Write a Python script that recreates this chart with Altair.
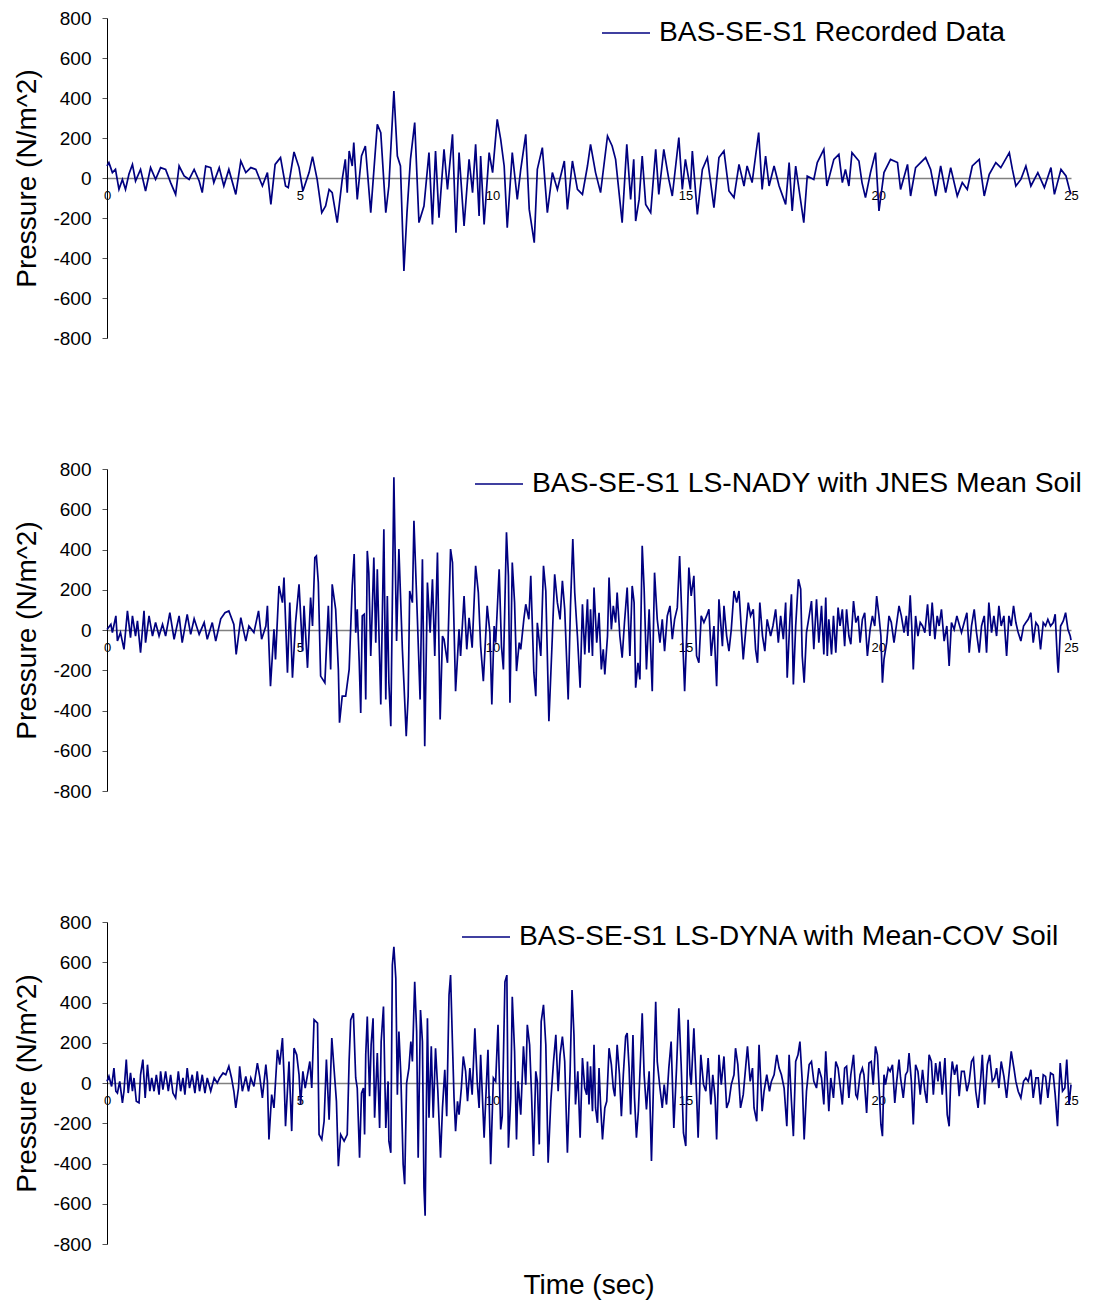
import altair as alt
import pandas as pd

# ---------------- data (time s, pressure N/m^2) ----------------
REC_NAME = "BAS-SE-S1 Recorded Data"
NADY_NAME = "BAS-SE-S1 LS-NADY with JNES Mean Soil"
DYNA_NAME = "BAS-SE-S1 LS-DYNA with Mean-COV Soil"

REC = [(0.0,60),(0.05,77),(0.14,27),(0.22,43),(0.31,-57),(0.40,-7),(0.48,-57),(0.57,20),(0.66,68),(0.74,-15),(0.87,43),(1.0,-65),(1.13,52),(1.26,-7),(1.39,52),(1.52,43),(1.65,-23),(1.78,-82),(1.87,60),(2.0,10),(2.13,-7),(2.26,43),(2.39,-15),(2.47,-73),(2.56,60),(2.69,52),(2.77,-23),(2.91,52),(3.03,-40),(3.16,43),(3.34,-82),(3.47,85),(3.6,27),(3.73,52),(3.86,43),(4.03,-40),(4.16,27),(4.25,-132),(4.36,68),(4.5,102),(4.63,-40),(4.7,-48),(4.85,130),(4.98,52),(5.08,-65),(5.24,27),(5.33,107),(5.45,-7),(5.57,-173),(5.67,-140),(5.76,-57),(5.84,-73),(5.97,-223),(6.1,-7),(6.18,93),(6.23,-73),(6.28,135),(6.36,60),(6.40,177),(6.49,-107),(6.6,110),(6.7,160),(6.84,-173),(7.01,268),(7.1,227),(7.23,-173),(7.31,-40),(7.44,435),(7.53,110),(7.61,60),(7.7,-465),(7.78,-173),(7.87,93),(7.98,277),(8.09,-223),(8.22,-140),(8.35,127),(8.44,-232),(8.52,135),(8.61,-198),(8.74,143),(8.83,-57),(8.96,218),(9.05,-273),(9.13,127),(9.26,-240),(9.39,93),(9.48,-73),(9.56,168),(9.65,-190),(9.69,110),(9.78,-232),(9.91,127),(10.0,27),(10.12,293),(10.21,193),(10.3,60),(10.38,-248),(10.51,127),(10.64,-107),(10.73,43),(10.86,218),(10.95,-157),(11.08,-323),(11.16,43),(11.29,152),(11.42,-173),(11.55,27),(11.68,-57),(11.86,85),(11.94,-157),(12.07,85),(12.2,-57),(12.33,-82),(12.46,60),(12.54,168),(12.67,27),(12.8,-73),(12.98,210),(13.1,160),(13.19,93),(13.36,-223),(13.48,168),(13.58,-107),(13.66,93),(13.71,-215),(13.8,-107),(13.88,110),(13.97,-132),(14.1,-173),(14.23,143),(14.31,-82),(14.44,143),(14.57,-7),(14.66,-90),(14.83,202),(14.92,-57),(15.0,93),(15.13,-57),(15.18,135),(15.31,-182),(15.44,43),(15.57,102),(15.74,-148),(15.87,102),(16.0,135),(16.13,-65),(16.26,-98),(16.39,68),(16.52,-40),(16.6,60),(16.73,-23),(16.82,110),(16.9,227),(16.99,-57),(17.08,110),(17.17,-40),(17.3,60),(17.43,-40),(17.6,-132),(17.69,77),(17.77,-165),(17.86,60),(18.07,-223),(18.16,10),(18.33,-7),(18.42,77),(18.59,143),(18.67,-40),(18.85,93),(18.98,118),(19.07,-23),(19.15,43),(19.24,-40),(19.32,127),(19.5,85),(19.58,-23),(19.67,-98),(19.8,27),(19.93,127),(20.02,-165),(20.15,27),(20.32,93),(20.5,77),(20.58,-57),(20.76,68),(20.84,-90),(20.97,52),(21.23,102),(21.36,43),(21.49,-90),(21.62,60),(21.75,-73),(21.88,52),(22.05,-90),(22.18,-23),(22.31,-57),(22.44,60),(22.62,93),(22.75,-90),(22.88,18),(23.05,77),(23.18,52),(23.4,127),(23.48,43),(23.57,-40),(23.7,-7),(23.83,60),(23.96,-40),(24.14,27),(24.31,-48),(24.48,52),(24.57,-82),(24.74,43),(24.87,10),(24.96,-57),(25.0,-80)]

NADY = [(0.0,3),(0.1,28),(0.14,-13),(0.23,70),(0.27,-55),(0.35,-13),(0.44,-96),(0.53,95),(0.61,-38),(0.66,70),(0.74,-30),(0.79,45),(0.87,-113),(0.96,95),(1.0,-63),(1.09,70),(1.18,-30),(1.26,37),(1.35,-30),(1.44,28),(1.52,-30),(1.63,86),(1.74,-46),(1.87,70),(1.95,-63),(2.08,78),(2.17,-22),(2.26,56),(2.39,-22),(2.52,37),(2.6,-46),(2.73,37),(2.82,-55),(2.95,56),(3.06,86),(3.16,95),(3.29,28),(3.35,-121),(3.47,61),(3.6,-55),(3.68,20),(3.81,-13),(3.93,95),(4.01,-46),(4.12,20),(4.16,120),(4.24,-279),(4.33,3),(4.37,-146),(4.46,219),(4.55,136),(4.59,261),(4.68,-212),(4.74,136),(4.81,-237),(4.89,37),(4.98,227),(5.07,-105),(5.11,120),(5.2,-188),(5.28,161),(5.33,20),(5.39,360),(5.43,368),(5.48,236),(5.54,-229),(5.65,-262),(5.74,120),(5.8,-196),(5.84,227),(5.93,103),(6.0,-196),(6.03,-461),(6.1,-329),
        (6.19,-329),(6.28,-196),(6.36,219),(6.41,377),(6.45,-13),(6.49,103),(6.54,-154),(6.58,-412),(6.62,70),(6.67,78),(6.71,-345),(6.75,393),(6.79,285),(6.84,-129),(6.88,103),(6.92,360),(6.97,-63),(7.01,302),(7.1,-370),(7.18,501),(7.23,-345),(7.27,169),(7.31,-262),(7.36,-478),(7.4,136),(7.44,759),(7.51,-55),(7.57,402),(7.66,-96),(7.7,-262),(7.76,-528),(7.81,-329),(7.85,194),(7.92,136),(7.96,543),(8.05,53),(8.12,-345),(8.18,352),(8.24,-578),(8.31,236),(8.38,-13),(8.44,252),(8.5,-129),(8.57,385),(8.64,-445),(8.7,-30),(8.74,-46),(8.83,-163),(8.91,402),(8.96,335),(9.04,-304),(9.13,3),(9.17,-129),(9.26,169),(9.33,-96),(9.39,61),(9.47,-88),(9.56,319),(9.63,186),(9.69,-80),(9.76,-254),(9.86,120),(9.93,-13),(9.98,-370),(10.04,20),(10.08,-63),(10.17,302),(10.23,-80),(10.28,-196),(10.36,485),(10.41,269),(10.45,-362),(10.51,335),(10.57,136),(10.62,-204),(10.69,-63),(10.73,-96),(10.81,53),(10.86,128),(10.94,53),(10.99,269),(11.07,-212),(11.12,-329),(11.16,36),(11.25,-129),(11.32,319),(11.38,194),(11.46,-453),(11.55,-30),(11.61,277),(11.68,136),(11.75,53),(11.81,244),(11.87,103),(11.96,-345),(12.02,120),(12.08,452),(12.13,186),(12.2,-30),(12.27,-287),(12.33,128),(12.39,-121),
        (12.46,153),(12.5,-113),(12.54,103),(12.59,-129),(12.63,211),(12.7,-63),(12.76,86),(12.82,-196),(12.87,-96),(12.91,-221),(12.98,-30),(13.02,261),(13.08,3),(13.13,120),(13.19,37),(13.23,186),(13.3,-30),(13.36,-138),(13.42,37),(13.49,211),(13.56,-129),(13.62,219),(13.67,136),(13.71,-287),(13.77,-163),(13.82,-246),(13.88,418),(13.93,203),(13.99,-196),(14.06,103),(14.14,-304),(14.2,285),(14.27,53),(14.34,-63),(14.4,53),(14.46,-105),(14.53,70),(14.6,120),(14.66,-46),(14.72,53),(14.79,111),(14.85,368),(14.92,3),(14.98,-304),(15.05,53),(15.09,310),(15.15,169),(15.22,269),(15.29,-129),(15.35,-163),(15.41,70),(15.48,37),(15.55,70),(15.61,103),(15.67,-129),(15.74,20),(15.81,-279),(15.87,153),(15.96,-80),(16.0,120),(16.07,-30),(16.13,-105),(16.19,3),(16.26,194),(16.33,136),(16.39,194),(16.45,3),(16.5,-146),(16.56,-13),(16.63,136),(16.69,70),(16.76,103),(16.82,-96),(16.87,-163),(16.93,136),(17.0,-30),(17.06,-105),(17.12,53),(17.21,-30),(17.27,20),(17.34,103),(17.41,-63),(17.47,70),(17.54,-46),(17.6,136),(17.64,-237),(17.71,53),(17.75,178),(17.8,-271),(17.86,20),(17.93,252),(17.99,203),(18.03,-129),(18.08,-262),(18.14,-13),(18.21,70),(18.27,144),(18.33,-96),(18.4,153),(18.46,-63),(18.53,120),(18.59,-121),
        (18.64,161),(18.68,-129),(18.72,53),(18.79,-121),(18.84,70),(18.9,-113),(18.96,111),(19.01,20),(19.07,103),(19.13,-80),(19.18,103),(19.24,-30),(19.29,-71),(19.36,144),(19.42,37),(19.48,70),(19.53,-63),(19.59,53),(19.65,86),(19.72,-129),(19.79,3),(19.85,70),(19.91,20),(19.96,169),(20.02,70),(20.07,-30),(20.11,-262),(20.15,-146),(20.22,-63),(20.28,70),(20.34,37),(20.41,-63),(20.47,20),(20.54,120),(20.6,70),(20.67,-13),(20.73,70),(20.77,-30),(20.83,173),(20.87,20),(20.91,-196),(20.97,70),(21.03,-30),(21.09,37),(21.15,20),(21.21,-13),(21.28,128),(21.34,-30),(21.4,136),(21.47,-46),(21.53,70),(21.58,20),(21.64,103),(21.71,-55),(21.78,20),(21.84,-179),(21.9,37),(21.97,3),(22.04,70),(22.1,28),(22.16,-13),(22.23,37),(22.3,86),(22.36,-113),(22.42,20),(22.49,103),(22.55,-13),(22.62,-113),(22.68,20),(22.75,70),(22.81,-113),(22.87,136),(22.94,-13),(23.0,70),(23.07,-30),(23.13,120),(23.19,20),(23.26,70),(23.33,-129),(23.39,70),(23.45,20),(23.51,120),(23.57,37),(23.63,-13),(23.7,-55),(23.77,20),(23.83,37),(23.89,53),(23.96,86),(24.02,-63),(24.09,37),(24.15,20),(24.21,-96),(24.28,37),(24.34,20),(24.4,53),(24.47,20),(24.54,37),(24.59,78),(24.65,-163),(24.67,-212),(24.73,20),(24.8,45),(24.86,86),(24.92,3),(24.98,-30),(25.0,-50)]

DYNA = [(0.0,8),(0.05,33),(0.12,-17),(0.18,74),(0.23,-41),(0.27,-50),(0.33,8),(0.4,-99),(0.44,-41),(0.5,116),(0.55,-50),(0.61,50),(0.66,-41),(0.7,25),(0.76,-91),(0.83,-99),(0.87,41),(0.93,116),(0.99,-74),(1.05,91),(1.11,-41),(1.16,25),(1.22,-41),(1.28,41),(1.35,-58),(1.39,58),(1.45,-33),(1.52,58),(1.59,-41),(1.65,41),(1.71,-50),(1.78,-74),(1.85,58),(1.91,-41),(1.97,25),(2.02,-58),(2.08,74),(2.14,-25),(2.21,41),(2.28,-50),(2.34,58),(2.4,-41),(2.47,41),(2.54,-50),(2.6,25),(2.69,-41),(2.78,25),(2.86,0),(2.92,25),(3.01,50),(3.08,41),(3.16,83),(3.23,25),(3.29,-41),(3.34,-124),(3.41,-25),(3.44,83),(3.51,-41),(3.6,33),(3.67,-41),(3.73,25),(3.81,-17),(3.9,99),(3.96,33),(4.03,-74),(4.12,91),(4.16,8),(4.2,-281),(4.27,-58),(4.33,-124),(4.42,165),(4.48,91),(4.55,223),(4.59,41),(4.63,-215),(4.72,107),(4.79,-239),(4.85,173),(4.92,140),(4.98,41),(5.02,-107),(5.08,58),(5.14,-25),(5.2,41),(5.26,107),(5.31,-25),(5.37,314),(5.46,297),(5.5,-256),(5.57,-281),(5.63,-190),(5.69,116),(5.76,-182),(5.83,223),(5.89,66),(5.95,-91),(6.0,-413),(6.06,-256),(6.15,-289),
        (6.23,-256),(6.28,116),(6.32,314),(6.39,347),(6.45,25),(6.49,-25),(6.55,-371),(6.6,-50),(6.65,-25),(6.68,-256),(6.71,140),(6.75,330),(6.81,-66),(6.85,190),(6.9,322),(6.94,-173),(7.01,149),(7.07,-223),(7.11,206),(7.17,380),(7.23,-223),(7.29,8),(7.31,-289),(7.36,-347),(7.4,586),(7.44,677),(7.49,520),(7.53,-58),(7.57,256),(7.62,41),(7.68,-404),(7.72,-503),(7.77,0),(7.83,74),(7.88,206),(7.92,107),(7.98,503),(8.03,256),(8.07,-371),(8.13,363),(8.18,206),(8.22,-520),(8.25,-660),(8.31,322),(8.35,-173),(8.41,182),(8.46,-173),(8.52,173),(8.58,-41),(8.65,-371),(8.7,-124),(8.76,66),(8.81,-165),(8.87,437),(8.91,536),(8.96,190),(9.0,-74),(9.04,-239),(9.09,-91),(9.13,-157),(9.19,-25),(9.24,132),(9.3,58),(9.35,-91),(9.41,74),(9.47,-58),(9.54,272),(9.6,8),(9.65,-124),(9.69,140),(9.78,-272),(9.85,41),(9.88,165),(9.95,-404),(10.02,25),(10.08,8),(10.14,289),(10.21,-231),(10.25,-165),(10.32,503),(10.37,536),(10.41,-322),(10.47,-74),(10.51,429),(10.57,157),(10.62,-281),(10.66,8),(10.73,-157),(10.8,182),(10.86,-8),(10.9,289),(10.96,190),(11.01,-58),(11.06,-363),(11.12,58),(11.16,8),(11.21,-305),(11.26,305),(11.32,388),(11.38,190),(11.44,-396),(11.51,-91),(11.58,107),(11.64,239),(11.7,-41),(11.75,140),(11.81,231),(11.87,107),(11.94,-347),(12.01,58),(12.06,462),(12.11,239),(12.15,-107),(12.21,58),(12.27,-272),(12.33,124),(12.39,-25),(12.44,-58),
        (12.46,107),(12.5,-107),(12.54,83),(12.59,-140),(12.63,190),(12.67,-124),(12.72,-198),(12.76,74),(12.8,-107),(12.85,-281),(12.91,-124),(12.96,-91),(13.02,173),(13.08,91),(13.13,-25),(13.17,-66),(13.23,190),(13.29,41),(13.34,-165),(13.39,41),(13.45,231),(13.49,248),(13.54,74),(13.58,-157),(13.64,239),(13.68,-74),(13.73,-272),(13.78,-140),(13.84,140),(13.88,347),(13.93,41),(13.99,-132),(14.06,58),(14.12,-388),(14.17,-25),(14.23,404),(14.27,107),(14.34,-25),(14.4,-124),(14.45,-8),(14.51,-107),(14.57,74),(14.63,206),(14.7,-223),(14.77,74),(14.83,371),(14.89,91),(14.95,-248),(15.01,-313),(15.07,314),(15.12,41),(15.15,-8),(15.22,272),(15.29,-58),(15.33,-272),(15.4,140),(15.47,-8),(15.53,-41),(15.59,124),(15.66,-107),(15.71,41),(15.77,-74),(15.81,-281),(15.87,140),(15.93,-8),(16.0,132),(16.07,-124),(16.13,-91),(16.19,-8),(16.26,41),(16.3,173),(16.36,91),(16.43,-124),(16.5,-58),(16.61,182),(16.68,8),(16.74,74),(16.78,-124),(16.85,-190),(16.91,190),(16.99,-140),(17.04,-41),(17.11,41),(17.18,-41),(17.23,8),(17.3,41),(17.37,140),(17.43,74),(17.49,41),(17.56,-25),(17.63,-215),(17.69,140),(17.75,-91),(17.8,-264),(17.86,107),(17.92,140),(17.97,206),(18.03,8),(18.08,-281),(18.14,-41),(18.21,91),(18.27,107),(18.33,8),(18.4,-25),(18.46,74),(18.53,25),(18.59,-107),
        (18.64,157),(18.68,8),(18.72,-140),(18.77,25),(18.84,-74),(18.9,107),(18.96,74),(19.01,-8),(19.07,-107),(19.13,74),(19.18,83),(19.24,-74),(19.29,41),(19.36,140),(19.42,-58),(19.46,-74),(19.53,41),(19.59,74),(19.63,41),(19.7,-149),(19.76,99),(19.82,107),(19.87,-8),(19.93,182),(19.98,140),(20.02,-8),(20.07,-206),(20.11,-264),(20.15,41),(20.19,-8),(20.26,74),(20.31,58),(20.37,91),(20.43,-99),(20.48,8),(20.54,116),(20.58,25),(20.65,-74),(20.71,41),(20.76,58),(20.8,149),(20.86,8),(20.91,-206),(20.97,91),(21.03,58),(21.09,-58),(21.15,66),(21.21,-41),(21.26,-99),(21.32,140),(21.38,107),(21.43,-58),(21.49,99),(21.55,8),(21.6,107),(21.66,-58),(21.73,124),(21.79,-157),(21.84,-215),(21.88,8),(21.92,107),(21.98,41),(22.04,91),(22.1,-66),(22.16,58),(22.23,58),(22.3,-41),(22.36,8),(22.42,107),(22.47,124),(22.53,-41),(22.59,-124),(22.66,25),(22.7,140),(22.76,-107),(22.83,91),(22.89,140),(22.96,8),(23.02,25),(23.07,74),(23.13,-25),(23.19,107),(23.26,33),(23.33,-74),(23.39,41),(23.45,157),(23.52,74),(23.57,8),(23.63,-41),(23.7,-74),(23.77,8),(23.83,25),(23.89,8),(23.96,66),(24.02,-74),(24.09,25),(24.15,25),(24.21,-107),(24.28,41),(24.34,33),(24.4,-74),(24.47,50),(24.54,41),(24.59,-58),(24.65,-215),(24.72,99),(24.78,-41),(24.84,-25),(24.89,116),(24.95,-107),(25.0,-8)]

X_TICKS = [0, 5, 10, 15, 20, 25]
Y_TICKS = [-800, -600, -400, -200, 0, 200, 400, 600, 800]

NAVY = "#000080"
FONT = "Liberation Sans"
W = 964


def panel(points, name, lx, ly, h):
    df = pd.DataFrame(points, columns=["t", "p"])
    df["series"] = name
    return alt.Chart(df).mark_line(strokeWidth=1.7, interpolate="linear").encode(
        x=alt.X("t:Q", scale=alt.Scale(domain=[0, 25], nice=False, zero=False),
                axis=alt.Axis(values=X_TICKS, format="d", title=None, offset=-h / 2,
                              domainColor="#808080", domainWidth=1.3, tickSize=0,
                              labelPadding=11, labelFontSize=13, labelColor="#000",
                              labelFont=FONT, grid=False, labelFlush=False)),
        y=alt.Y("p:Q", scale=alt.Scale(domain=[-800, 800], nice=False),
                axis=alt.Axis(values=Y_TICKS, labelExpr="'' + datum.value",
                              title="Pressure (N/m^2)", grid=False,
                              domainColor="#000", tickColor="#555", tickSize=5,
                              labelPadding=11, labelFontSize=19, labelFont=FONT,
                              labelColor="#000", titleFont=FONT, titleFontSize=28,
                              titleFontWeight="normal", titleColor="#000",
                              titlePadding=11)),
        color=alt.Color("series:N", scale=alt.Scale(range=[NAVY]),
                        legend=alt.Legend(title=None, orient="none", legendX=lx, legendY=ly,
                                          symbolType="stroke", symbolSize=2304,
                                          symbolStrokeWidth=1.5, labelFontSize=28.3,
                                          labelFont=FONT, labelColor="#000", labelLimit=1000,
                                          labelOffset=8, padding=0)),
    ).properties(width=W, height=h)


c1 = panel(REC, REC_NAME, 494, -10, 320)
c2 = panel(NADY, NADY_NAME, 367, -10, 322)
c3 = panel(DYNA, DYNA_NAME, 354, -10, 322)

chart = alt.vconcat(c1, c2, c3, spacing=131, bounds="flush").resolve_scale(
    color="independent").resolve_legend(color="independent").properties(
    title=alt.TitleParams("Time (sec)", orient="bottom", anchor="middle", frame="group",
                          fontSize=28, font=FONT, fontWeight="normal", color="#000",
                          offset=18),
    padding={"left": 5, "top": 0, "right": 0, "bottom": 2},
).configure_view(stroke=None)

chart.save("out.html", embed_options={"renderer": "svg", "actions": False})
